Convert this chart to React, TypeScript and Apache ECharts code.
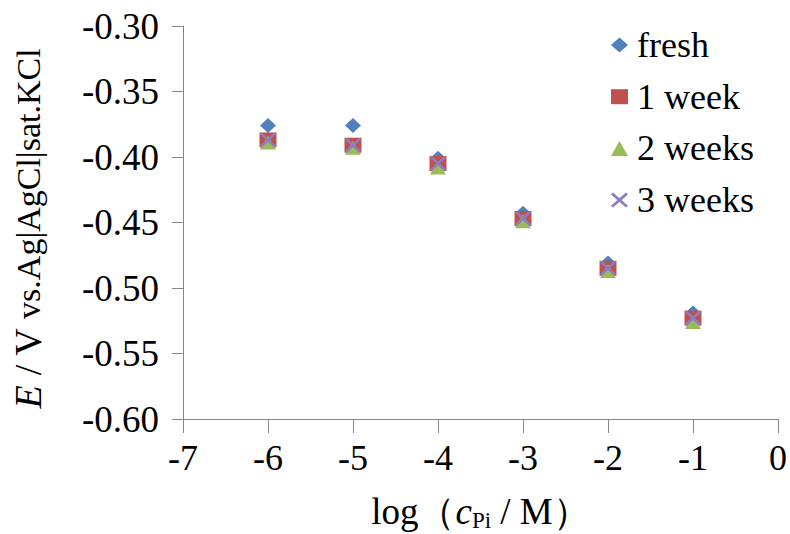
import React, { useEffect, useRef } from "react";
import * as echarts from "echarts";

const xValues = [-6, -5, -4, -3, -2, -1];
const seriesNames = ["fresh", "1 week", "2 weeks", "3 weeks"];
const fresh = [-0.376, -0.376, -0.401, -0.443, -0.481, -0.519];
const week1 = [-0.387, -0.391, -0.405, -0.447, -0.485, -0.523];
const week2 = [-0.389, -0.393, -0.408, -0.449, -0.487, -0.526];
const week3 = [-0.387, -0.391, -0.405, -0.447, -0.485, -0.523];
const seriesValues = [fresh, week1, week2, week3];
const colors = ["#4F81BD", "#C0504D", "#9BBB59", "#8E7CC3"];
const symbols = [
  "diamond",
  "rect",
  "triangle",
  "path://M0,1.2L1.2,0L10,8.8L8.8,10ZM8.8,0L10,1.2L1.2,10L0,8.8Z",
];
const symbolSizes = [
  [16, 15],
  [17, 15],
  [16, 14],
  [16, 15],
];

const FONT = "'Liberation Serif', 'Times New Roman', serif";

export default function App() {
  const ref = useRef<HTMLDivElement>(null);
  useEffect(() => {
    if (!ref.current) return;
    const chart = echarts.init(ref.current, undefined, { renderer: "svg" });
    const axisColor = "#868686";
    chart.setOption({
      animation: false,
      backgroundColor: "#ffffff",
      grid: {
        left: 183,
        right: 12,
        top: 26,
        bottom: 115,
        containLabel: false,
        outerBoundsMode: "none",
      },
      legend: {
        orient: "vertical",
        left: 606,
        top: 22,
        itemWidth: 17,
        itemHeight: 15,
        itemGap: 15.7,
        symbolKeepAspect: false,
        data: seriesNames,
        textStyle: {
          fontFamily: FONT,
          fontSize: 36,
          color: "#000",
          padding: [0, 0, 0, 4],
        },
      },
      xAxis: {
        type: "value",
        min: -7,
        max: 0,
        interval: 1,
        name: "{a|log（}{i|c}{s|Pi}{a| / M）}",
        nameLocation: "middle",
        nameGap: 71,
        nameTextStyle: {
          rich: {
            a: { fontFamily: FONT, fontSize: 37, color: "#000" },
            i: { fontFamily: FONT, fontSize: 37, fontStyle: "italic", color: "#000" },
            s: {
              fontFamily: FONT,
              fontSize: 23,
              color: "#000",
              lineHeight: 42,
              verticalAlign: "bottom",
            },
          },
        },
        axisLine: { show: true, onZero: false, lineStyle: { color: axisColor, width: 1 } },
        axisTick: { show: true, inside: false, length: 14, lineStyle: { color: axisColor } },
        axisLabel: {
          fontFamily: FONT,
          fontSize: 36,
          color: "#000",
          margin: 21,
          formatter: (v: number) => String(v),
        },
        splitLine: { show: false },
      },
      yAxis: {
        type: "value",
        min: -0.6,
        max: -0.3,
        interval: 0.05,
        name: "{e|E}{a| / V }{b|vs.Ag|AgCl|sat.KCl}",
        nameLocation: "middle",
        nameRotate: 90,
        nameGap: 136,
        nameTextStyle: {
          rich: {
            e: { fontFamily: FONT, fontSize: 38, fontStyle: "italic", color: "#000" },
            a: { fontFamily: FONT, fontSize: 38, color: "#000" },
            b: { fontFamily: FONT, fontSize: 34, color: "#000", padding: [0, 12, 0, 0] },
          },
        },
        axisLine: { show: true, onZero: false, lineStyle: { color: axisColor, width: 1 } },
        axisTick: { show: true, inside: false, length: 11, lineStyle: { color: axisColor } },
        axisLabel: {
          fontFamily: FONT,
          fontSize: 37,
          color: "#000",
          margin: 24,
          formatter: (v: number) => v.toFixed(2),
        },
        splitLine: { show: false },
      },
      series: seriesNames.map((name, i) => ({
        name,
        type: "scatter",
        symbol: symbols[i],
        symbolSize: symbolSizes[i],
        itemStyle: { color: colors[i], opacity: 1 },
        data: xValues.map((x, j) => [x, seriesValues[i][j]]),
        z: 2 + i,
      })),
    });
    return () => chart.dispose();
  }, []);
  return (
    <div
      ref={ref}
      style={{ position: "fixed", left: 0, top: 0, width: 790, height: 534 }}
    />
  );
}
